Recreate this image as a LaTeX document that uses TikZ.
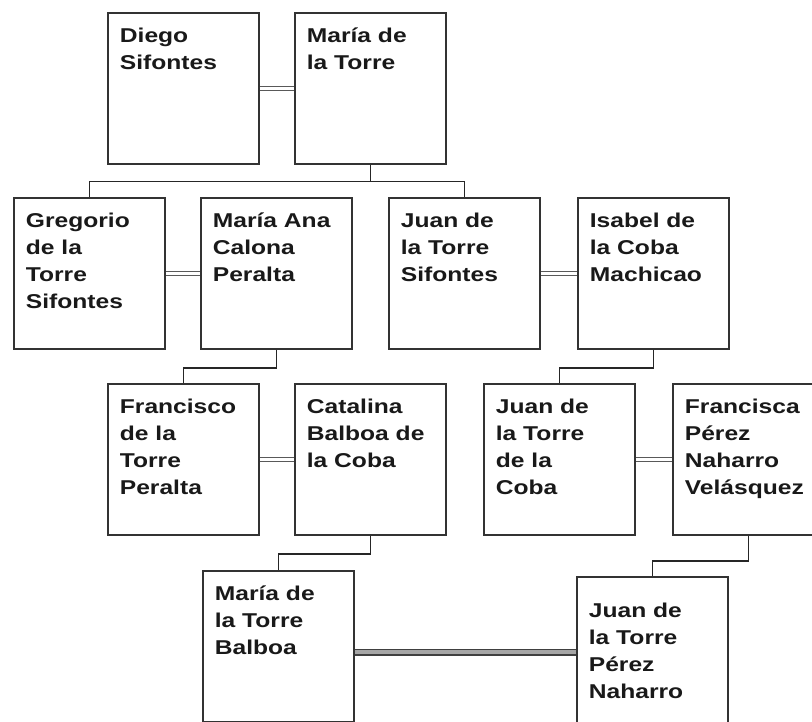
\documentclass[tikz,border=0pt]{standalone}
\usepackage{fontspec}
\setmainfont{Liberation Sans}[FakeStretch=1.23]
\usepackage{tikz}
\usetikzlibrary{positioning}

% name card: text hangs from the top of a fixed box
\newcommand{\card}[2][15pt]{\parbox[t][121pt][t]{127pt}{\rule{0pt}{#1}#2}}

\tikzset{
  person/.style={draw=black!80, line width=1.8pt, anchor=north west, inner xsep=12pt, inner ysep=15pt,
    text=black!90, font=\fontsize{20}{27}\selectfont\bfseries},
  kin/.style={draw=black!85, line width=1.4pt},
  marriage/.style={draw=black!65, line width=1pt, double=white, double distance=3pt},
  bigmarriage/.style={draw=black!75, line width=1.2pt, double=black!35, double distance=4pt}
}

\begin{document}
\begin{tikzpicture}[x=1pt, y=-1pt]
	\useasboundingbox (0,0) rectangle (812,722);
	\node[person] (diego) at (107,12) {\card{Diego\\Sifontes}};
	\node[person] (mariat) at (294,12) {\card{María de\\la Torre}};
	\node[person] (gregorio) at (13,197) {\card{Gregorio\\de la\\Torre\\Sifontes}};
	\node[person] (mariaana) at (200,197) {\card{María Ana\\Calona\\Peralta}};
	\node[person] (juans) at (388,197) {\card{Juan de\\la Torre\\Sifontes}};
	\node[person] (isabel) at (577,197) {\card{Isabel de\\la Coba\\Machicao}};
	\node[person] (francisco) at (107,383) {\card{Francisco\\de la\\Torre\\Peralta}};
	\node[person] (catalina) at (294,383) {\card{Catalina\\Balboa de\\la Coba}};
	\node[person] (juanc) at (483,383) {\card{Juan de\\la Torre\\de la\\Coba}};
	\node[person] (francisca) at (672,383) {\card{Francisca\\Pérez\\Naharro\\Velásquez}};
	\node[person] (mariab) at (202,570) {\card{María de\\la Torre\\Balboa}};
	\node[person] (juanp) at (576,576) {\card[26pt]{Juan de\\la Torre\\Pérez\\Naharro}};
	% marriages
	\draw[marriage] (diego.east) -- (mariat.west);
	\draw[marriage] (gregorio.east) -- (mariaana.west);
	\draw[marriage] (juans.east) -- (isabel.west);
	\draw[marriage] (francisco.east) -- (catalina.west);
	\draw[marriage] (juanc.east) -- (francisca.west);
	\draw[bigmarriage] (juanp.west -| mariab.east) -- (juanp.west);
	% descent
	\draw[kin] (mariat.south) -- ++(0,17) -| (gregorio.north);
	\draw[kin] (mariat.south) -- ++(0,17) -| (juans.north);
	\draw[kin] (mariaana.south) -- ++(0,18) -| (francisco.north);
	\draw[kin] (isabel.south) -- ++(0,18) -| (juanc.north);
	\draw[kin] (catalina.south) -- ++(0,18) -| (mariab.north);
	\draw[kin] (francisca.south) -- ++(0,25) -| (juanp.north);
\end{tikzpicture}
\end{document}
